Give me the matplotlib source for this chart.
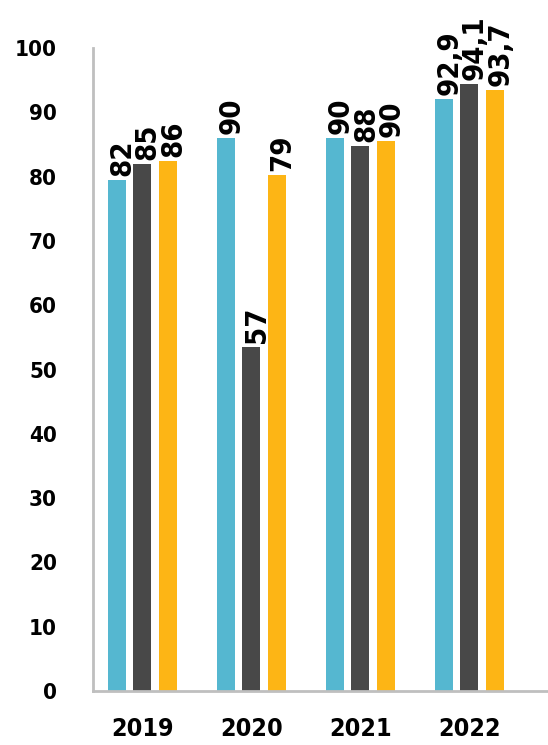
import numpy as np
import matplotlib
matplotlib.use('agg')
import matplotlib.pyplot as plt

# Data
years = ['2019', '2020', '2021', '2022']
series_a = [79.4, 86.0, 86.0, 92.0]   # cyan bars
series_b = [81.9, 53.5, 84.7, 94.4]   # dark grey bars
series_c = [82.4, 80.3, 85.5, 93.4]   # yellow bars
labels_a = ['82', '90', '90', '92,9']
labels_b = ['85', '57', '88', '94,1']
labels_c = ['86', '79', '90', '93,7']
yticks = [0, 10, 20, 30, 40, 50, 60, 70, 80, 90, 100]

colors = ['#55B7D0', '#484848', '#FDB515']

# narrow bold look: condensed DejaVu
plt.rcParams['font.family'] = ['DejaVu Sans']
plt.rcParams['font.stretch'] = 'condensed'
plt.rcParams['font.weight'] = 'bold'

fig = plt.figure(figsize=(5.48, 7.45), dpi=100)
ax = fig.add_axes([0.170, 0.0725, 0.830, 0.863])

x = np.arange(len(years))
width = 0.165
step = 0.235

for i, (vals, labs) in enumerate(zip([series_a, series_b, series_c],
                                     [labels_a, labels_b, labels_c])):
    pos = x + (i - 1) * step
    ax.bar(pos, vals, width=width, color=colors[i], zorder=2)
    for px, v, lab in zip(pos, vals, labs):
        ax.annotate(lab, (px, v), xytext=(4, 3), textcoords='offset points',
                    rotation=90, ha='center', va='bottom',
                    fontsize=21, fontweight='bold', color='black')

ax.set_ylim(0, 100)
ax.set_xlim(-0.45, 3.72)
ax.set_yticks(yticks)
ax.set_xticks(x)
ax.set_xticklabels(years)

for side in ['top', 'right']:
    ax.spines[side].set_visible(False)
for side in ['left', 'bottom']:
    ax.spines[side].set_color('#BFBFBF')
    ax.spines[side].set_linewidth(2)

ax.tick_params(axis='y', length=0, pad=26, labelsize=16)
ax.tick_params(axis='x', length=0, pad=19, labelsize=18)
for t in ax.get_xticklabels() + ax.get_yticklabels():
    t.set_fontweight('bold')

plt.savefig('out.png', dpi=100)
